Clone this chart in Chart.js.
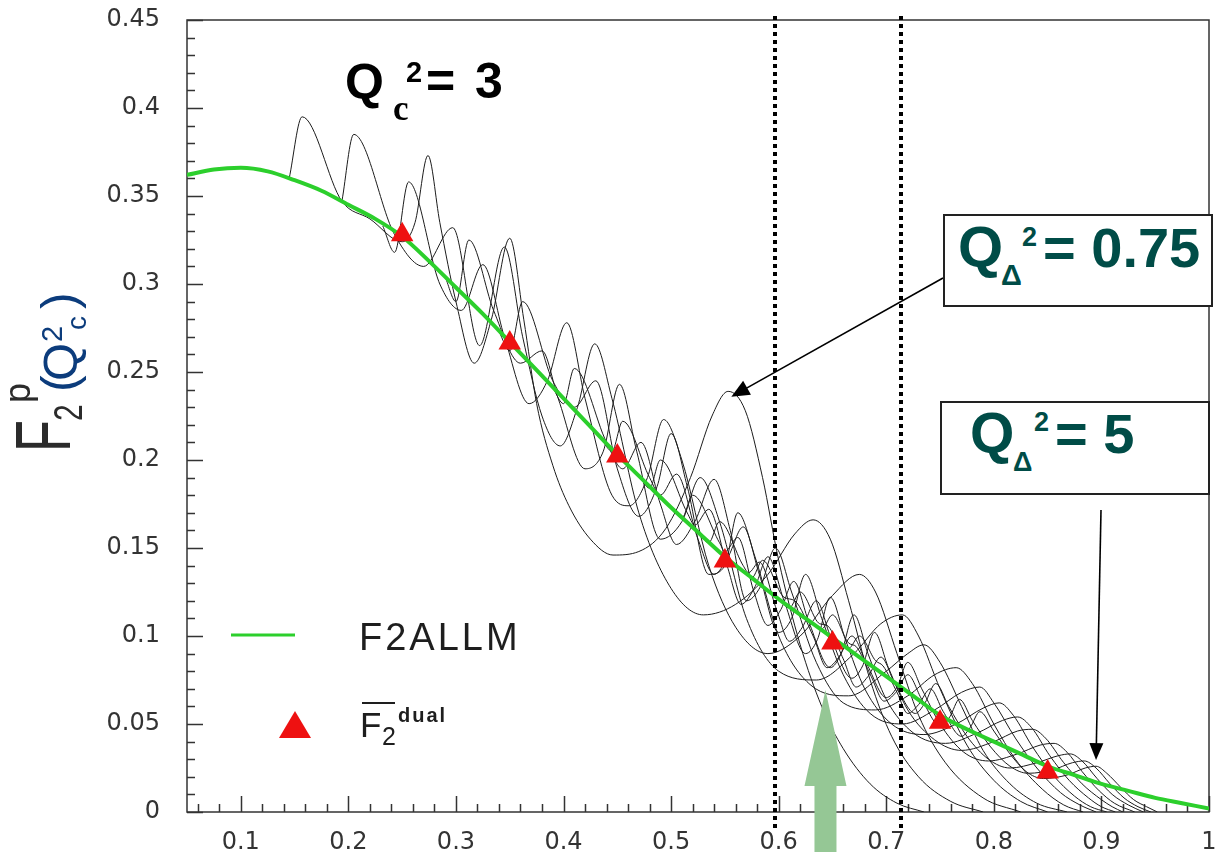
<!DOCTYPE html>
<html>
<head>
<meta charset="utf-8">
<title>F2p duality Qc2 = 3</title>
<script src="https://cdn.jsdelivr.net/npm/chart.js@4.4.0/dist/chart.umd.min.js"></script>
<style>
  body { margin: 0; background: #fff; }
  #wrap { position: relative; width: 1222px; height: 852px; overflow: hidden; background: #fff; }
  #myChart { position: absolute; left: 0; top: 0; }
  .t { position: absolute; white-space: nowrap; line-height: 1; font-family: "Liberation Sans", Arial, sans-serif; }
  .b { font-weight: bold; }
  .teal { color: #004c47; }
  .blue { color: #0c3c7c; }
  .box { position: absolute; box-sizing: border-box; border: 2px solid #222; background: #fff; }
</style>
</head>
<body>
<div id="wrap">
  <canvas id="myChart" width="1222" height="852"></canvas>

  <!-- y axis title, rotated -->
  <div id="ytitle" style="position:absolute;left:0;top:455px;width:170px;height:95px;transform-origin:0 0;transform:rotate(-90deg);">
    <span class="t" style="left:3px;top:5px;font-size:77px;color:#2b2b2b;transform:scaleX(0.68);transform-origin:0 0;">F</span>
    <span class="t" style="left:34px;top:48px;font-size:40px;color:#2b2b2b;transform:scaleX(0.75);transform-origin:0 0;">2</span>
    <span class="t" style="left:52px;top:0px;font-size:36px;color:#2b2b2b;">p</span>
    <span class="t blue" style="left:63px;top:34px;font-size:50px;">(</span>
    <span class="t blue" style="left:74px;top:36px;font-size:49px;">Q</span>
    <span class="t blue" style="left:113px;top:38px;font-size:29px;">2</span>
    <span class="t blue" style="left:125px;top:63px;font-size:28px;">c</span>
    <span class="t blue" style="left:146px;top:34px;font-size:50px;">)</span>
  </div>

  <!-- Qc^2 = 3 -->
  <span class="t b" style="left:345px;top:57px;font-size:50px;color:#000;">Q</span>
  <span class="t b" style="left:393px;top:91px;font-size:35px;color:#000;font-family:'Liberation Serif',serif;">c</span>
  <span class="t b" style="left:406px;top:58px;font-size:29px;color:#000;">2</span>
  <span class="t b" style="left:426px;top:56px;font-size:50px;color:#000;">=</span>
  <span class="t b" style="left:475px;top:56px;font-size:50px;color:#000;">3</span>

  <!-- box Q_Delta^2 = 0.75 -->
  <div class="box" style="left:943px;top:214px;width:270px;height:93px;"></div>
  <span class="t b teal" style="left:958px;top:218px;font-size:58px;">Q</span>
  <span class="t b teal" style="left:1001px;top:261px;font-size:29px;">&Delta;</span>
  <span class="t b teal" style="left:1022px;top:224px;font-size:27px;">2</span>
  <span class="t b teal" style="left:1043px;top:220px;font-size:56px;">= 0.75</span>

  <!-- box Q_Delta^2 = 5 -->
  <div class="box" style="left:940px;top:401px;width:270px;height:94px;"></div>
  <span class="t b teal" style="left:970px;top:405px;font-size:57px;">Q</span>
  <span class="t b teal" style="left:1013px;top:449px;font-size:27px;">&Delta;</span>
  <span class="t b teal" style="left:1034px;top:409px;font-size:27px;">2</span>
  <span class="t b teal" style="left:1055px;top:406px;font-size:56px;">= 5</span>

  <!-- legend texts -->
  <span class="t" style="left:359px;top:618px;font-size:38px;letter-spacing:3px;color:#1e1e1e;">F2ALLM</span>
  <span class="t" style="left:360px;top:707px;font-size:35px;color:#1e1e1e;">F</span>
  <div style="position:absolute;left:362px;top:702px;width:33px;border-top:2px solid #1e1e1e;"></div>
  <span class="t" style="left:382px;top:724px;font-size:25px;color:#1e1e1e;">2</span>
  <span class="t b" style="left:398px;top:705px;font-size:20px;letter-spacing:2px;color:#1e1e1e;">dual</span>
</div>

<script>
// axis ticks
const xTickLabels = [0.1, 0.2, 0.3, 0.4, 0.5, 0.6, 0.7, 0.8, 0.9, 1];
const yTickLabels = [0, 0.05, 0.1, 0.15, 0.2, 0.25, 0.3, 0.35, 0.4, 0.45];

// F2ALLM (green curve)
const allmX = [0.05,0.075,0.1,0.125,0.15,0.175,0.2,0.225,0.25,0.275,0.3,0.325,0.35,0.375,0.4,0.425,0.45,0.475,0.5,0.525,0.55,0.575,0.6,0.625,0.65,0.675,0.7,0.725,0.75,0.775,0.8,0.825,0.85,0.875,0.9,0.925,0.95,0.975,1.0];
const allmY = [0.362,0.365,0.366,0.364,0.359,0.353,0.345,0.337,0.327,0.313,0.298,0.283,0.267,0.251,0.235,0.219,0.203,0.188,0.173,0.159,0.145,0.133,0.121,0.110,0.099,0.088,0.077,0.066,0.055,0.047,0.040,0.033,0.026,0.021,0.016,0.012,0.008,0.005,0.002];

// averaged F2 dual (red triangles)
const dualX = [0.25, 0.35, 0.45, 0.55, 0.65, 0.75, 0.85];
const dualY = [0.328, 0.2665, 0.2023, 0.1426, 0.096, 0.051, 0.0227];

// resonance curves, one per Q_Delta^2, [x, F2]
const q2Delta = ['0.75','1','1.25','1.5','1.75','2','2.25','2.5','2.75','3','3.5','4','4.5','5'];
const res075 = [[0.145,0.360],[0.157,0.395],[0.194,0.347],[0.22,0.337],[0.25,0.324],[0.262,0.335],[0.274,0.373],[0.285,0.335],[0.3,0.29],[0.317,0.255],[0.333,0.28],[0.35,0.326],[0.363,0.28],[0.375,0.232],[0.39,0.197],[0.405,0.174],[0.425,0.155],[0.446,0.146],[0.47,0.148],[0.495,0.161],[0.518,0.19],[0.538,0.225],[0.553,0.239],[0.569,0.228],[0.585,0.19],[0.6,0.143],[0.62,0.095],[0.64,0.06],[0.66,0.036],[0.685,0.016],[0.71,0.005],[0.735,0]];
const res100 = [[0.194,0.347],[0.205,0.385],[0.243,0.328],[0.27,0.31],[0.297,0.332],[0.322,0.265],[0.345,0.321],[0.362,0.27],[0.38,0.225],[0.397,0.208],[0.413,0.23],[0.429,0.266],[0.445,0.235],[0.47,0.17],[0.5,0.127],[0.53,0.112],[0.56,0.118],[0.59,0.135],[0.615,0.158],[0.632,0.166],[0.648,0.155],[0.665,0.12],[0.685,0.075],[0.705,0.043],[0.73,0.02],[0.76,0.006],[0.79,0]];
const res125 = [[0.232,0.333],[0.243,0.318],[0.256,0.358],[0.285,0.3],[0.305,0.285],[0.325,0.311],[0.345,0.27],[0.368,0.232],[0.385,0.245],[0.403,0.278],[0.42,0.235],[0.445,0.18],[0.461,0.174],[0.478,0.19],[0.493,0.223],[0.51,0.2],[0.535,0.14],[0.56,0.105],[0.59,0.09],[0.62,0.1],[0.65,0.123],[0.675,0.135],[0.69,0.125],[0.71,0.09],[0.73,0.055],[0.755,0.028],[0.79,0.008],[0.825,0]];
const res150 = [[0.29,0.304],[0.3,0.29],[0.312,0.325],[0.335,0.285],[0.36,0.255],[0.38,0.262],[0.395,0.235],[0.42,0.195],[0.437,0.205],[0.452,0.243],[0.468,0.205],[0.49,0.155],[0.51,0.165],[0.527,0.19],[0.545,0.165],[0.57,0.11],[0.6,0.08],[0.635,0.075],[0.67,0.09],[0.695,0.107],[0.715,0.112],[0.73,0.1],[0.75,0.07],[0.775,0.038],[0.8,0.018],[0.825,0.006],[0.85,0]];
const res175 = [[0.34,0.273],[0.35,0.262],[0.362,0.29],[0.39,0.245],[0.41,0.23],[0.43,0.245],[0.45,0.195],[0.47,0.168],[0.487,0.185],[0.5,0.215],[0.515,0.185],[0.535,0.135],[0.55,0.14],[0.562,0.17],[0.578,0.145],[0.6,0.1],[0.63,0.072],[0.665,0.066],[0.7,0.08],[0.72,0.09],[0.735,0.095],[0.75,0.085],[0.77,0.06],[0.79,0.035],[0.815,0.016],[0.84,0.005],[0.868,0]];
const res200 = [[0.39,0.241],[0.4,0.232],[0.41,0.252],[0.44,0.21],[0.455,0.195],[0.472,0.21],[0.49,0.175],[0.505,0.152],[0.522,0.165],[0.54,0.189],[0.555,0.16],[0.57,0.12],[0.583,0.128],[0.597,0.15],[0.612,0.125],[0.635,0.085],[0.66,0.062],[0.69,0.058],[0.72,0.066],[0.745,0.078],[0.765,0.082],[0.78,0.073],[0.8,0.05],[0.82,0.03],[0.845,0.013],[0.865,0.004],[0.883,0]];
const res225 = [[0.435,0.212],[0.445,0.205],[0.455,0.222],[0.48,0.19],[0.49,0.18],[0.505,0.192],[0.525,0.155],[0.54,0.135],[0.553,0.145],[0.567,0.162],[0.582,0.135],[0.6,0.102],[0.612,0.11],[0.625,0.135],[0.64,0.11],[0.66,0.078],[0.685,0.056],[0.715,0.05],[0.745,0.058],[0.77,0.068],[0.787,0.071],[0.8,0.062],[0.82,0.042],[0.84,0.025],[0.862,0.011],[0.88,0.004],[0.895,0]];
const res250 = [[0.47,0.191],[0.48,0.184],[0.49,0.2],[0.515,0.17],[0.522,0.163],[0.535,0.172],[0.552,0.14],[0.565,0.118],[0.578,0.128],[0.59,0.145],[0.605,0.12],[0.625,0.09],[0.636,0.098],[0.648,0.122],[0.662,0.098],[0.68,0.07],[0.705,0.05],[0.735,0.044],[0.765,0.05],[0.79,0.059],[0.805,0.062],[0.818,0.055],[0.836,0.037],[0.855,0.021],[0.875,0.009],[0.89,0.003],[0.905,0]];
const res275 = [[0.5,0.173],[0.51,0.167],[0.52,0.18],[0.545,0.153],[0.55,0.148],[0.562,0.156],[0.577,0.125],[0.59,0.106],[0.602,0.115],[0.614,0.131],[0.628,0.108],[0.648,0.082],[0.658,0.09],[0.67,0.112],[0.683,0.09],[0.7,0.064],[0.725,0.045],[0.755,0.039],[0.785,0.045],[0.808,0.052],[0.822,0.054],[0.835,0.048],[0.852,0.032],[0.87,0.018],[0.888,0.008],[0.9,0.003],[0.913,0]];
const res300 = [[0.525,0.159],[0.535,0.153],[0.545,0.165],[0.567,0.14],[0.572,0.136],[0.582,0.142],[0.598,0.115],[0.61,0.097],[0.622,0.105],[0.635,0.12],[0.648,0.1],[0.668,0.076],[0.678,0.083],[0.689,0.102],[0.702,0.082],[0.72,0.058],[0.745,0.041],[0.77,0.035],[0.8,0.04],[0.822,0.046],[0.836,0.047],[0.848,0.042],[0.865,0.028],[0.882,0.016],[0.9,0.007],[0.91,0.003],[0.92,0]];
const res350 = [[0.565,0.138],[0.575,0.133],[0.585,0.143],[0.605,0.122],[0.615,0.12],[0.632,0.1],[0.645,0.082],[0.656,0.088],[0.668,0.1],[0.682,0.084],[0.7,0.065],[0.71,0.071],[0.72,0.085],[0.733,0.07],[0.75,0.05],[0.772,0.034],[0.795,0.029],[0.822,0.033],[0.843,0.038],[0.856,0.039],[0.868,0.034],[0.882,0.023],[0.898,0.012],[0.912,0.005],[0.931,0]];
const res400 = [[0.6,0.121],[0.61,0.116],[0.62,0.125],[0.638,0.107],[0.645,0.106],[0.66,0.087],[0.672,0.071],[0.683,0.077],[0.695,0.088],[0.708,0.073],[0.727,0.056],[0.736,0.062],[0.746,0.073],[0.758,0.06],[0.775,0.043],[0.795,0.03],[0.815,0.025],[0.84,0.028],[0.86,0.032],[0.871,0.033],[0.882,0.029],[0.896,0.019],[0.91,0.01],[0.925,0.004],[0.939,0]];
const res450 = [[0.63,0.108],[0.64,0.104],[0.65,0.112],[0.665,0.096],[0.672,0.094],[0.686,0.077],[0.698,0.063],[0.709,0.068],[0.72,0.078],[0.733,0.064],[0.75,0.049],[0.759,0.054],[0.768,0.064],[0.78,0.052],[0.797,0.037],[0.815,0.026],[0.832,0.022],[0.855,0.024],[0.873,0.028],[0.884,0.029],[0.895,0.025],[0.908,0.016],[0.921,0.008],[0.934,0.003],[0.946,0]];
const res500 = [[0.655,0.097],[0.665,0.093],[0.675,0.1],[0.69,0.086],[0.697,0.083],[0.71,0.068],[0.72,0.056],[0.73,0.061],[0.741,0.07],[0.753,0.057],[0.77,0.043],[0.778,0.048],[0.787,0.057],[0.8,0.046],[0.815,0.033],[0.83,0.023],[0.846,0.019],[0.868,0.021],[0.885,0.025],[0.895,0.026],[0.905,0.022],[0.918,0.014],[0.93,0.007],[0.942,0.003],[0.952,0]];
const resCurves = [res075,res100,res125,res150,res175,res200,res225,res250,res275,res300,res350,res400,res450,res500];

// annotations (data units)
const cutLines = [0.597, 0.714];
const upArrow = { x: 0.6435, tip: 0.0693 };
const pointTo075 = [0.556, 0.236];
const pointTo5 = [0.895, 0.0295];

var datasets = [];
datasets.push({
  label: 'F2 dual',
  data: dualX.map((x, i) => ({ x: x, y: dualY[i] })),
  showLine: false,
  pointStyle: 'triangle',
  pointRadius: 13,
  pointBackgroundColor: '#ee1111',
  pointBorderColor: '#ee1111',
  pointBorderWidth: 0,
  order: 1
});
datasets.push({
  label: 'F2ALLM',
  data: allmX.map((x, i) => ({ x: x, y: allmY[i] })),
  borderColor: '#2ccf2c',
  borderWidth: 4,
  pointRadius: 0,
  cubicInterpolationMode: 'monotone',
  order: 2
});
resCurves.forEach(function (c, i) {
  datasets.push({
    label: 'Q2 = ' + q2Delta[i],
    data: c,
    borderColor: '#1c1c1c',
    borderWidth: 1,
    pointRadius: 0,
    cubicInterpolationMode: 'monotone',
    order: 3
  });
});

function drawArrow(ctx, x1, y1, x2, y2, head, half) {
  var a = Math.atan2(y2 - y1, x2 - x1);
  ctx.beginPath();
  ctx.moveTo(x1, y1);
  ctx.lineTo(x2 - Math.cos(a) * head * 0.8, y2 - Math.sin(a) * head * 0.8);
  ctx.stroke();
  ctx.beginPath();
  ctx.moveTo(x2, y2);
  ctx.lineTo(x2 - head * Math.cos(a) + half * Math.sin(a), y2 - head * Math.sin(a) - half * Math.cos(a));
  ctx.lineTo(x2 - head * Math.cos(a) - half * Math.sin(a), y2 - head * Math.sin(a) + half * Math.cos(a));
  ctx.closePath();
  ctx.fill();
}

// ROOT-like frame with inward ticks
const framePlugin = {
  id: 'frame',
  beforeDatasetsDraw(chart) {
    var ctx = chart.ctx, a = chart.chartArea, xs = chart.scales.x, ys = chart.scales.y;
    ctx.save();
    ctx.strokeStyle = '#333';
    ctx.lineWidth = 1.5;
    ctx.strokeRect(a.left, a.top, a.right - a.left, a.bottom - a.top);
    ctx.beginPath();
    for (var i = 0; i <= 45; i++) {
      var v = i / 100;
      var py = Math.round(ys.getPixelForValue(v)) + 0.5;
      var len = (i % 5 === 0) ? 16 : 8;
      ctx.moveTo(a.left, py); ctx.lineTo(a.left + len, py);
    }
    for (var j = 3; j <= 50; j++) {
      var vx = j / 50;
      var px = Math.round(xs.getPixelForValue(vx)) + 0.5;
      var lx = (j % 5 === 0) ? 16 : 8;
      ctx.moveTo(px, a.bottom); ctx.lineTo(px, a.bottom - lx);
    }
    ctx.stroke();
    ctx.restore();
  },
  afterDraw(chart) {
    var ctx = chart.ctx, a = chart.chartArea, xs = chart.scales.x, ys = chart.scales.y;
    ctx.save();
    // dotted cut lines
    ctx.strokeStyle = '#000';
    ctx.lineWidth = 4;
    ctx.setLineDash([4, 4]);
    cutLines.forEach(function (v) {
      var px = Math.round(xs.getPixelForValue(v));
      ctx.beginPath();
      ctx.moveTo(px, a.top - 4);
      ctx.lineTo(px, a.bottom + 18);
      ctx.stroke();
    });
    ctx.setLineDash([]);
    // pointer arrows from the boxes
    ctx.strokeStyle = '#000';
    ctx.fillStyle = '#000';
    ctx.lineWidth = 1.6;
    drawArrow(ctx, 943, 278, xs.getPixelForValue(pointTo075[0]), ys.getPixelForValue(pointTo075[1]), 18, 8);
    drawArrow(ctx, 1101, 510, xs.getPixelForValue(pointTo5[0]), ys.getPixelForValue(pointTo5[1]), 17, 7);
    // big green up arrow
    var ax = xs.getPixelForValue(upArrow.x), at = ys.getPixelForValue(upArrow.tip);
    ctx.fillStyle = '#95c795';
    ctx.beginPath();
    ctx.moveTo(ax, at);
    ctx.lineTo(ax + 21, at + 96);
    ctx.lineTo(ax + 11, at + 96);
    ctx.lineTo(ax + 11, chart.height + 2);
    ctx.lineTo(ax - 11, chart.height + 2);
    ctx.lineTo(ax - 11, at + 96);
    ctx.lineTo(ax - 21, at + 96);
    ctx.closePath();
    ctx.fill();
    // legend symbols
    ctx.strokeStyle = '#2ccf2c';
    ctx.lineWidth = 3;
    ctx.beginPath();
    ctx.moveTo(231, 635); ctx.lineTo(295, 635);
    ctx.stroke();
    ctx.fillStyle = '#ee1111';
    ctx.beginPath();
    ctx.moveTo(295, 711); ctx.lineTo(311, 738); ctx.lineTo(279, 738);
    ctx.closePath();
    ctx.fill();
    ctx.restore();
  }
};

var ctx = document.getElementById('myChart').getContext('2d');
var chart = new Chart(ctx, {
  type: 'line',
  data: { datasets: datasets },
  options: {
    responsive: false,
    animation: false,
    events: [],
    layout: { padding: { top: 20, right: 4, left: 0, bottom: 0 } },
    plugins: { legend: { display: false }, tooltip: { enabled: false } },
    scales: {
      x: {
        type: 'linear',
        min: 0.05,
        max: 1.0,
        grid: { display: false, drawTicks: false },
        border: { display: false },
        afterBuildTicks: function (s) { s.ticks = xTickLabels.map(function (v) { return { value: v }; }); },
        afterFit: function (s) { s.height = 40; s.paddingLeft = 0; s.paddingRight = 0; },
        ticks: {
          autoSkip: false, maxRotation: 0, padding: 16,
          color: '#333',
          font: { family: 'DejaVu Sans', size: 24 },
          callback: function (v) { return String(v); }
        }
      },
      y: {
        min: 0,
        max: 0.45,
        grid: { display: false, drawTicks: false },
        border: { display: false },
        afterBuildTicks: function (s) { s.ticks = yTickLabels.map(function (v) { return { value: v }; }); },
        afterFit: function (s) { s.width = 187; s.paddingTop = 0; s.paddingBottom = 0; },
        ticks: {
          padding: 27,
          color: '#333',
          font: { family: 'DejaVu Sans', size: 24 },
          callback: function (v) { return String(v); }
        }
      }
    }
  },
  plugins: [framePlugin]
});
</script>
</body>
</html>
